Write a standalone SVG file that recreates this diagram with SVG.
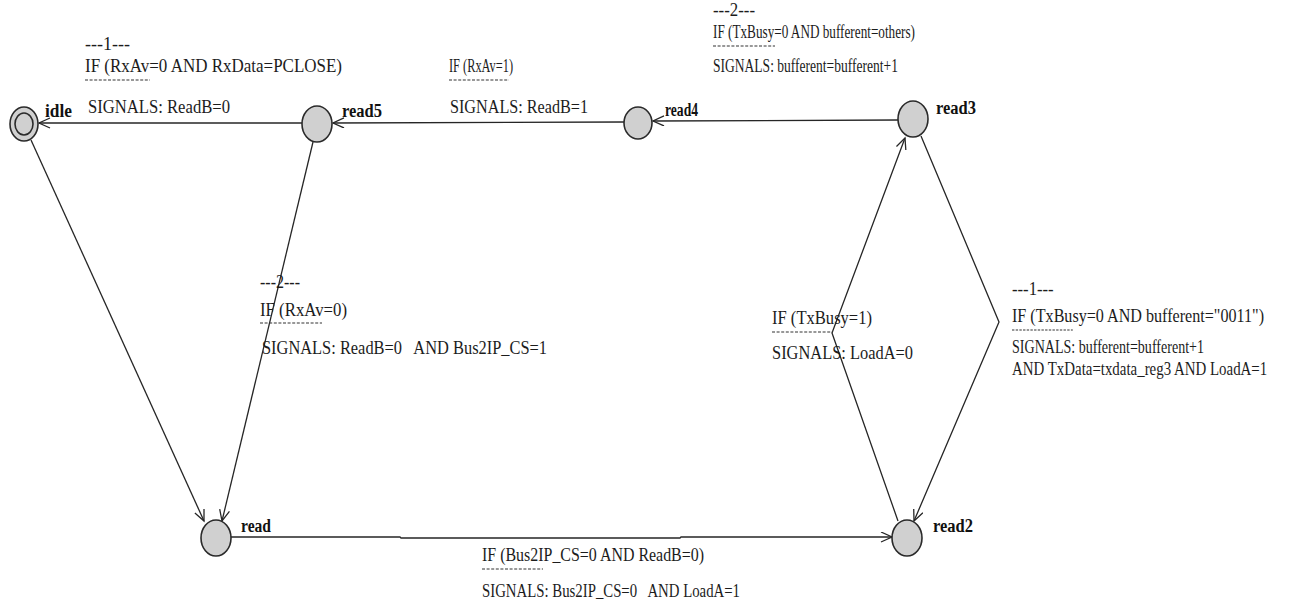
<svg xmlns="http://www.w3.org/2000/svg" width="1293" height="605" viewBox="0 0 1293 605">
  <style>
    .bg { fill: #ffffff; }
    .state { fill: #d0d0d0; stroke: #2a2a2a; stroke-width: 1.6; }
    .name { font-family: "Liberation Serif", "Times New Roman", serif; font-size: 18px; font-weight: bold; fill: #111111; }
    .lbl { font-family: "Liberation Serif", "Times New Roman", serif; font-size: 19px; fill: #1c1c1c; white-space: pre; }
    .edge { fill: none; stroke: #262626; stroke-width: 1.3; }
    .dash { fill: none; stroke: #333333; stroke-width: 1.2; stroke-dasharray: 3 1.6; }
  </style>
  <defs>
    <marker id="arrow" markerUnits="userSpaceOnUse" markerWidth="14" markerHeight="12" refX="12" refY="5.5" orient="auto">
      <path d="M1,0.5 L12,5.5 L1,10.5" fill="none" stroke="#262626" stroke-width="1.3"/>
    </marker>
  </defs>

  <rect class="bg" x="0" y="0" width="1293" height="605"/>

  <!-- transitions -->
  <g id="connectors">
    <line class="edge" x1="302" y1="123" x2="39" y2="123" marker-end="url(#arrow)"/>
    <line class="edge" x1="624" y1="122" x2="333" y2="123" marker-end="url(#arrow)"/>
    <line class="edge" x1="898" y1="120" x2="653" y2="121" marker-end="url(#arrow)"/>
    <polyline class="edge" points="898,521 832,333 905,138" marker-end="url(#arrow)"/>
    <polyline class="edge" points="921,136 999,322 914,521" marker-end="url(#arrow)"/>
    <polyline class="edge" points="231,537 400,537 401,538 680,538 681,537 892,537" marker-end="url(#arrow)"/>
    <line class="edge" x1="31" y1="140" x2="204" y2="521" marker-end="url(#arrow)"/>
    <line class="edge" x1="313" y1="142" x2="222" y2="521" marker-end="url(#arrow)"/>
  </g>

  <!-- transition labels -->
  <g id="label-read5-idle">
    <text class="lbl" x="85" y="50" textLength="45" lengthAdjust="spacingAndGlyphs">---1---</text>
    <text class="lbl" x="85" y="72" textLength="257" lengthAdjust="spacingAndGlyphs">IF (RxAv=0 AND RxData=PCLOSE)</text>
    <line class="dash" x1="85" y1="80" x2="150" y2="80"/>
    <text class="lbl" x="88" y="113" textLength="142" lengthAdjust="spacingAndGlyphs">SIGNALS: ReadB=0</text>
  </g>
  <g id="label-read4-read5">
    <text class="lbl" x="449" y="72" textLength="64" lengthAdjust="spacingAndGlyphs">IF (RxAv=1)</text>
    <line class="dash" x1="449" y1="80" x2="509" y2="80"/>
    <text class="lbl" x="450" y="113" textLength="138" lengthAdjust="spacingAndGlyphs">SIGNALS: ReadB=1</text>
  </g>
  <g id="label-read3-read4">
    <text class="lbl" x="713" y="16" textLength="42" lengthAdjust="spacingAndGlyphs">---2---</text>
    <text class="lbl" x="713" y="38" textLength="202" lengthAdjust="spacingAndGlyphs">IF (TxBusy=0 AND bufferent=others)</text>
    <line class="dash" x1="713" y1="46" x2="775" y2="46"/>
    <text class="lbl" x="713" y="72" textLength="185" lengthAdjust="spacingAndGlyphs">SIGNALS: bufferent=bufferent+1</text>
  </g>
  <g id="label-read5-read">
    <text class="lbl" x="260" y="288" textLength="40" lengthAdjust="spacingAndGlyphs">---2---</text>
    <text class="lbl" x="260" y="316" textLength="87" lengthAdjust="spacingAndGlyphs">IF (RxAv=0)</text>
    <line class="dash" x1="260" y1="323" x2="322" y2="323"/>
    <text class="lbl" x="262" y="354" textLength="285" lengthAdjust="spacingAndGlyphs">SIGNALS: ReadB=0   AND Bus2IP_CS=1</text>
  </g>
  <g id="label-read2-read3">
    <text class="lbl" x="772" y="324" textLength="100" lengthAdjust="spacingAndGlyphs">IF (TxBusy=1)</text>
    <line class="dash" x1="772" y1="332" x2="833" y2="332"/>
    <text class="lbl" x="772" y="359" textLength="141" lengthAdjust="spacingAndGlyphs">SIGNALS: LoadA=0</text>
  </g>
  <!-- narrow block near the right edge: condensed horizontally -->
  <g id="label-read3-read2" transform="translate(1012 0) scale(0.8 1)">
    <text class="lbl" x="0" y="295" textLength="52" lengthAdjust="spacingAndGlyphs">---1---</text>
    <text class="lbl" x="0" y="322" textLength="315" lengthAdjust="spacingAndGlyphs">IF (TxBusy=0 AND bufferent="0011")</text>
    <line class="dash" x1="0" y1="330" x2="76" y2="330"/>
    <text class="lbl" x="0" y="353" textLength="240" lengthAdjust="spacingAndGlyphs">SIGNALS: bufferent=bufferent+1</text>
    <text class="lbl" x="0" y="375" textLength="319" lengthAdjust="spacingAndGlyphs">AND TxData=txdata_reg3 AND LoadA=1</text>
  </g>
  <g id="label-read-read2">
    <text class="lbl" x="482" y="561" textLength="222" lengthAdjust="spacingAndGlyphs">IF (Bus2IP_CS=0 AND ReadB=0)</text>
    <line class="dash" x1="482" y1="569" x2="543" y2="569"/>
    <text class="lbl" x="482" y="597" textLength="258" lengthAdjust="spacingAndGlyphs">SIGNALS: Bus2IP_CS=0   AND LoadA=1</text>
  </g>

  <!-- states -->
  <g id="idle">
    <ellipse class="state" cx="24" cy="124" rx="14" ry="17"/>
    <ellipse class="state" cx="24" cy="124" rx="9" ry="11"/>
    <text class="name" x="45" y="117" textLength="27" lengthAdjust="spacingAndGlyphs">idle</text>
  </g>
  <g id="read5">
    <ellipse class="state" cx="317" cy="124" rx="15" ry="18"/>
    <text class="name" x="342" y="117" textLength="40" lengthAdjust="spacingAndGlyphs">read5</text>
  </g>
  <g id="read4">
    <ellipse class="state" cx="638" cy="123" rx="14" ry="16"/>
    <text class="name" x="665" y="116" textLength="33" lengthAdjust="spacingAndGlyphs">read4</text>
  </g>
  <g id="read3">
    <ellipse class="state" cx="913" cy="119" rx="15" ry="18"/>
    <text class="name" x="936" y="114" textLength="40" lengthAdjust="spacingAndGlyphs">read3</text>
  </g>
  <g id="read2">
    <ellipse class="state" cx="907" cy="538" rx="15" ry="18"/>
    <text class="name" x="933" y="532" textLength="40" lengthAdjust="spacingAndGlyphs">read2</text>
  </g>
  <g id="read">
    <ellipse class="state" cx="216" cy="538" rx="15" ry="18"/>
    <text class="name" x="241" y="532" textLength="30" lengthAdjust="spacingAndGlyphs">read</text>
  </g>
</svg>
